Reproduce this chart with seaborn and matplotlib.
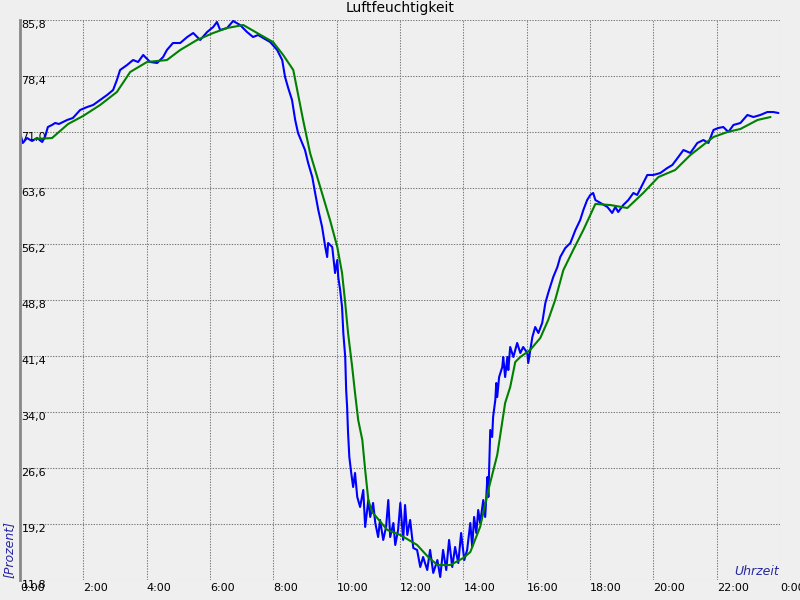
import numpy as np
import pandas as pd
import matplotlib
matplotlib.use('Agg')
import matplotlib.pyplot as plt
import seaborn as sns

# Messwerte (blau) - Stunden / Prozent
ist_h = [0.00, 0.09, 0.22, 0.38, 0.54, 0.70, 0.79, 0.88, 1.01, 1.11, 1.23, 1.36, 1.49, 1.67,
         1.90, 2.12, 2.31, 2.53, 2.75, 2.94, 3.06, 3.16, 3.38, 3.57, 3.73, 3.89, 4.11, 4.33,
         4.52, 4.64, 4.83, 5.06, 5.28, 5.47, 5.69, 5.91, 6.10, 6.22, 6.32, 6.54, 6.73, 6.95,
         7.17, 7.36, 7.52, 7.68, 7.90, 8.12, 8.28, 8.37, 8.47, 8.59, 8.69, 8.78, 8.91, 9.00,
         9.10, 9.23, 9.32, 9.42, 9.54, 9.64, 9.70, 9.73, 9.86, 9.95, 10.02, 10.05, 10.11,
         10.17, 10.21, 10.27, 10.30, 10.33, 10.36, 10.40, 10.46, 10.52, 10.58, 10.65, 10.74,
         10.84, 10.90, 11.00, 11.06, 11.15, 11.22, 11.31, 11.37, 11.47, 11.56, 11.63, 11.69,
         11.79, 11.85, 11.94, 12.01, 12.10, 12.16, 12.23, 12.32, 12.42, 12.54, 12.64, 12.73,
         12.86, 12.95, 13.05, 13.18, 13.27, 13.36, 13.46, 13.55, 13.65, 13.74, 13.84, 13.93,
         14.03, 14.12, 14.22, 14.28, 14.34, 14.41, 14.47, 14.53, 14.63, 14.69, 14.76, 14.79,
         14.85, 14.91, 14.94, 15.01, 15.04, 15.07, 15.13, 15.23, 15.26, 15.32, 15.39, 15.42,
         15.48, 15.58, 15.70, 15.80, 15.89, 16.02, 16.05, 16.18, 16.27, 16.37, 16.49, 16.59,
         16.68, 16.84, 16.97, 17.06, 17.22, 17.38, 17.54, 17.69, 17.79, 17.91, 18.01, 18.10,
         18.17, 18.33, 18.55, 18.70, 18.80, 18.89, 19.05, 19.21, 19.37, 19.49, 19.68, 19.81,
         20.00, 20.22, 20.44, 20.60, 20.79, 20.95, 21.17, 21.39, 21.58, 21.74, 21.90, 22.05,
         22.21, 22.37, 22.53, 22.75, 22.97, 23.16, 23.38, 23.60, 23.79, 23.95]
ist_wert = [70.87, 69.55, 70.21, 69.81, 70.21, 69.68, 70.34, 71.66, 71.93, 72.19, 72.06, 72.32,
            72.59, 72.85, 73.91, 74.30, 74.57, 75.23, 75.89, 76.55, 77.87, 79.19, 79.85, 80.51,
            80.25, 81.18, 80.25, 80.12, 80.91, 81.84, 82.76, 82.76, 83.55, 84.08, 83.16, 84.21,
            84.87, 85.54, 84.48, 84.74, 85.67, 85.14, 84.21, 83.55, 83.82, 83.42, 82.89, 81.84,
            80.51, 78.27, 76.81, 75.23, 72.59, 70.87, 69.55, 68.62, 66.90, 65.05, 62.94, 60.69,
            58.45, 55.80, 54.48, 56.33, 55.80, 52.37, 54.09, 51.84, 50.12, 47.88, 44.44, 41.27,
            36.91, 34.66, 31.23, 28.05, 25.94, 24.09, 25.94, 22.77, 21.45, 23.69, 18.81, 22.37,
            20.13, 21.98, 19.33, 17.48, 19.73, 17.09, 18.81, 22.37, 17.48, 19.33, 16.43, 18.41,
            21.98, 17.09, 21.71, 17.75, 19.73, 16.03, 15.77, 13.52, 14.84, 13.12, 15.77, 12.73,
            14.44, 12.20, 15.77, 13.12, 17.09, 13.52, 16.16, 14.05, 18.01, 14.44, 15.77, 19.33,
            16.16, 20.13, 18.01, 21.05, 19.33, 22.37, 20.13, 25.41, 22.77, 31.62, 30.70, 33.34,
            35.59, 37.83, 35.98, 38.62, 39.95, 41.27, 38.62, 41.27, 39.55, 42.59, 41.27, 43.12,
            41.80, 42.59, 41.80, 40.48, 43.91, 45.23, 44.44, 45.76, 48.40, 49.73, 51.84, 53.16,
            54.48, 55.67, 56.33, 58.05, 59.37, 60.69, 62.01, 62.68, 62.94, 62.01, 61.62, 61.09,
            60.30, 61.09, 60.43, 61.35, 62.01, 62.94, 62.68, 64.26, 65.32, 65.32, 65.58, 66.24,
            66.64, 67.70, 68.62, 68.23, 69.55, 69.94, 69.55, 71.27, 71.53, 71.66, 71.00, 71.93,
            72.19, 73.25, 72.98, 73.25, 73.64, 73.64, 73.51]

# Mittelwert (gruen)
mittel_h = [0.47, 1.01, 1.52, 1.99, 2.53, 3.06, 3.48, 4.01, 4.64, 5.06, 5.59, 6.10, 6.54, 7.05,
            7.49, 7.99, 8.31, 8.63, 8.94, 9.16, 9.48, 9.79, 10.02, 10.17, 10.27, 10.36, 10.49,
            10.58, 10.68, 10.81, 10.90, 11.00, 11.12, 11.60, 12.01, 12.54, 12.89, 13.18, 13.59,
            14.00, 14.22, 14.53, 14.79, 15.07, 15.32, 15.48, 15.64, 15.80, 16.11, 16.43, 16.68,
            16.90, 17.16, 17.47, 17.79, 18.17, 18.64, 19.18, 19.68, 20.16, 20.69, 21.17, 21.90,
            22.34, 22.75, 23.29, 23.70]
mittel_wert = [70.08, 70.20, 72.06, 73.11, 74.57, 76.29, 78.93, 80.25, 80.51, 81.84, 83.16,
               84.08, 84.74, 85.14, 84.08, 82.89, 81.18, 79.19, 72.59, 68.23, 63.73, 59.37,
               55.80, 52.37, 48.40, 44.44, 39.95, 36.51, 32.94, 30.30, 26.34, 22.37, 20.79,
               18.41, 17.75, 16.43, 14.84, 13.78, 13.78, 14.71, 15.50, 18.81, 23.69, 28.32,
               35.19, 37.30, 40.61, 41.27, 42.19, 43.78, 46.16, 48.80, 52.77, 55.41, 58.05,
               61.49, 61.35, 60.96, 62.94, 65.05, 65.98, 67.96, 70.34, 71.00, 71.40, 72.59,
               72.98]

y_ticks = [11.8, 19.2, 26.6, 34.0, 41.4, 48.8, 56.2, 63.6, 71.0, 78.4, 85.8]
x_ticks = list(range(0, 25, 2))
x_labels = [f"{h % 24}:00" for h in x_ticks]

bg = '#efefef'
sns.set_style('whitegrid', {'axes.facecolor': bg, 'figure.facecolor': bg,
                            'grid.color': '#808080', 'text.color': 'black',
                            'xtick.color': 'black', 'ytick.color': 'black'})
plt.rcParams['font.family'] = ['DejaVu Sans']

df_ist = pd.DataFrame({'h': ist_h, 'wert': ist_wert})
df_mit = pd.DataFrame({'h': mittel_h, 'wert': mittel_wert})

fig = plt.figure(figsize=(8, 6), dpi=100)
ax = fig.add_axes([20 / 800, 20 / 600, 760 / 800, 560 / 600])

sns.lineplot(data=df_ist, x='h', y='wert', ax=ax, color='#0000ff', linewidth=1.5)
sns.lineplot(data=df_mit, x='h', y='wert', ax=ax, color='#008000', linewidth=1.5)

ax.set_xlim(0, 24)
ax.set_ylim(11.8, 85.8)
ax.set_xticks(x_ticks)
ax.set_xticklabels(x_labels, ha='left', fontsize=8, color='black')
ax.set_yticks(y_ticks)
ax.set_yticklabels([f"{v:.1f}".replace('.', ',') for v in y_ticks],
                   ha='left', va='top', fontsize=8, color='black')
ax.tick_params(axis='y', length=0, pad=-1)
ax.tick_params(axis='x', length=0, pad=2)
ax.grid(True, linewidth=0.75, linestyle=(0, (1.3, 1.3)), color='#7a7a7a')
ax.set_xlabel('')
ax.set_ylabel('')

for s in ['top', 'right', 'bottom']:
    ax.spines[s].set_visible(False)
ax.spines['left'].set_color('#888888')
ax.spines['left'].set_linewidth(2)

fig.text(0.5, 1 - 8 / 600, 'Luftfeuchtigkeit', ha='center', va='center', fontsize=10,
         color='black')
fig.text(9 / 800, 1 - 549 / 600, '[Prozent]', rotation=90, ha='center', va='center',
         fontsize=9, style='italic', color='#2828a0')
ax.text(0.999, 0.004, 'Uhrzeit', transform=ax.transAxes, ha='right', va='bottom',
        fontsize=9, style='italic', color='#2828a0')

fig.savefig('out.png', dpi=100, facecolor=bg)
